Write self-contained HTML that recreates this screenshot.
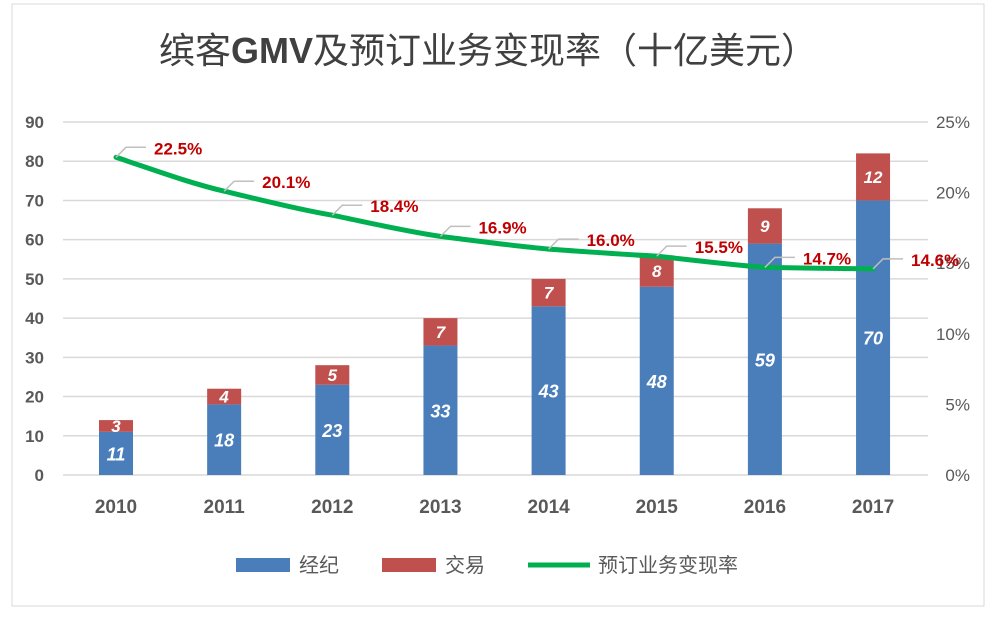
<!DOCTYPE html>
<html><head><meta charset="utf-8"><style>
body{margin:0;background:#fff;}
svg{display:block;font-family:"Liberation Sans","Noto Sans CJK SC",sans-serif;}
</style></head><body>
<svg id="chart" width="1000" height="619" viewBox="0 0 1000 619">
<rect x="12" y="4" width="972" height="602" fill="#fff" stroke="#d9d9d9"/>
<text x="488" y="63" text-anchor="middle" font-size="36" fill="#404040">缤客<tspan font-weight="bold">GMV</tspan>及预订业务变现率（十亿美元）</text>
<g id="grid"></g><g id="bars"></g><g id="line"></g>
<g>
<rect x="236" y="558" width="54" height="14" fill="#4a7ebb"/>
<text x="299" y="572" font-size="20" fill="#595959">经纪</text>
<rect x="382" y="558" width="54" height="14" fill="#c0504d"/>
<text x="445" y="572" font-size="20" fill="#595959">交易</text>
<line x1="528" y1="565" x2="590" y2="565" stroke="#00b050" stroke-width="5"/>
<text x="598" y="572" font-size="20" fill="#595959">预订业务变现率</text>
</g>
</svg>
<script>
const years=["2010","2011","2012","2013","2014","2015","2016","2017"];
const brokerage=[11,18,23,33,43,48,59,70];
const trade=[3,4,5,7,7,8,9,12];
const rate=[22.5,20.1,18.4,16.9,16.0,15.5,14.7,14.6];
const leftTicks=[0,10,20,30,40,50,60,70,80,90];
const rightTicks=[0,5,10,15,20,25];
const NS="http://www.w3.org/2000/svg";
const y=v=>475-v*(353/90);
const yr=v=>475-v*(353/25);
const x=i=>116+i*108.15;
function mk(tag,attrs,parent,text){const e=document.createElementNS(NS,tag);for(const k in attrs)e.setAttribute(k,attrs[k]);if(text!==undefined)e.textContent=text;parent.appendChild(e);return e;}
const grid=document.getElementById('grid'),bars=document.getElementById('bars'),line=document.getElementById('line');
leftTicks.forEach(t=>{
 const l=mk('line',{x1:63,x2:928,y1:y(t),y2:y(t),stroke:'#d9d9d9','stroke-width':1.5},grid);
 
 
 const tx=mk('text',{x:44,y:y(t)+6,'text-anchor':'end','font-size':17,'font-weight':'bold',fill:'#595959'},grid,String(t));
 
 
});
rightTicks.forEach(t=>{
 const tx=mk('text',{x:970,y:yr(t)+6,'text-anchor':'end','font-size':17,fill:'#595959'},grid,t+'%');
 
 
});
const bw=34;
years.forEach((yrs,i)=>{
 const b=mk('rect',{x:x(i)-bw/2,y:y(brokerage[i]),width:bw,height:y(0)-y(brokerage[i]),fill:'#4a7ebb'},bars);
 
 
 const r=mk('rect',{x:x(i)-bw/2,y:y(brokerage[i]+trade[i]),width:bw,height:y(brokerage[i])-y(brokerage[i]+trade[i]),fill:'#c0504d'},bars);
 
 
 const bl=mk('text',{x:x(i),y:(y(0)+y(brokerage[i]))/2+7,'text-anchor':'middle','font-size':18,'font-weight':'bold','font-style':'italic',fill:'#fff'},bars,String(brokerage[i]));
 
 
 const rl=mk('text',{x:x(i),y:(y(brokerage[i])+y(brokerage[i]+trade[i]))/2+6,'text-anchor':'middle','font-size':17,'font-weight':'bold','font-style':'italic',fill:'#fff'},bars,String(trade[i]));
 
 
 const xl=mk('text',{x:x(i),y:513,'text-anchor':'middle','font-size':19,'font-weight':'bold',fill:'#595959'},bars,yrs);
 
 
});
let d='';
rate.forEach((v,i)=>{
 if(i===0)d+='M'+x(i)+' '+yr(v);
 else{const x0=x(i-1),y0=yr(rate[i-1]);d+=` C${x0+36} ${y0+(yr(v)-y0)*0.35} ${x(i)-36} ${yr(v)-(yr(v)-y0)*0.25} ${x(i)} ${yr(v)}`;}
});
const p=mk('path',{d:d,fill:'none',stroke:'#00b050','stroke-width':5,'stroke-linecap':'round'},line);


rate.forEach((v,i)=>{
 const px=x(i),py=yr(v);
 const ld=mk('path',{d:`M${px} ${py} L${px+10} ${py-10} L${px+30} ${py-10}`,fill:'none',stroke:'#bfbfbf','stroke-width':1.5},line);
 
 
 const t=mk('text',{x:px+38,y:py-3,'font-size':17,'font-weight':'bold',fill:'#c00000'},line,v.toFixed(1)+'%');
 
 
});
</script>
</body></html>
